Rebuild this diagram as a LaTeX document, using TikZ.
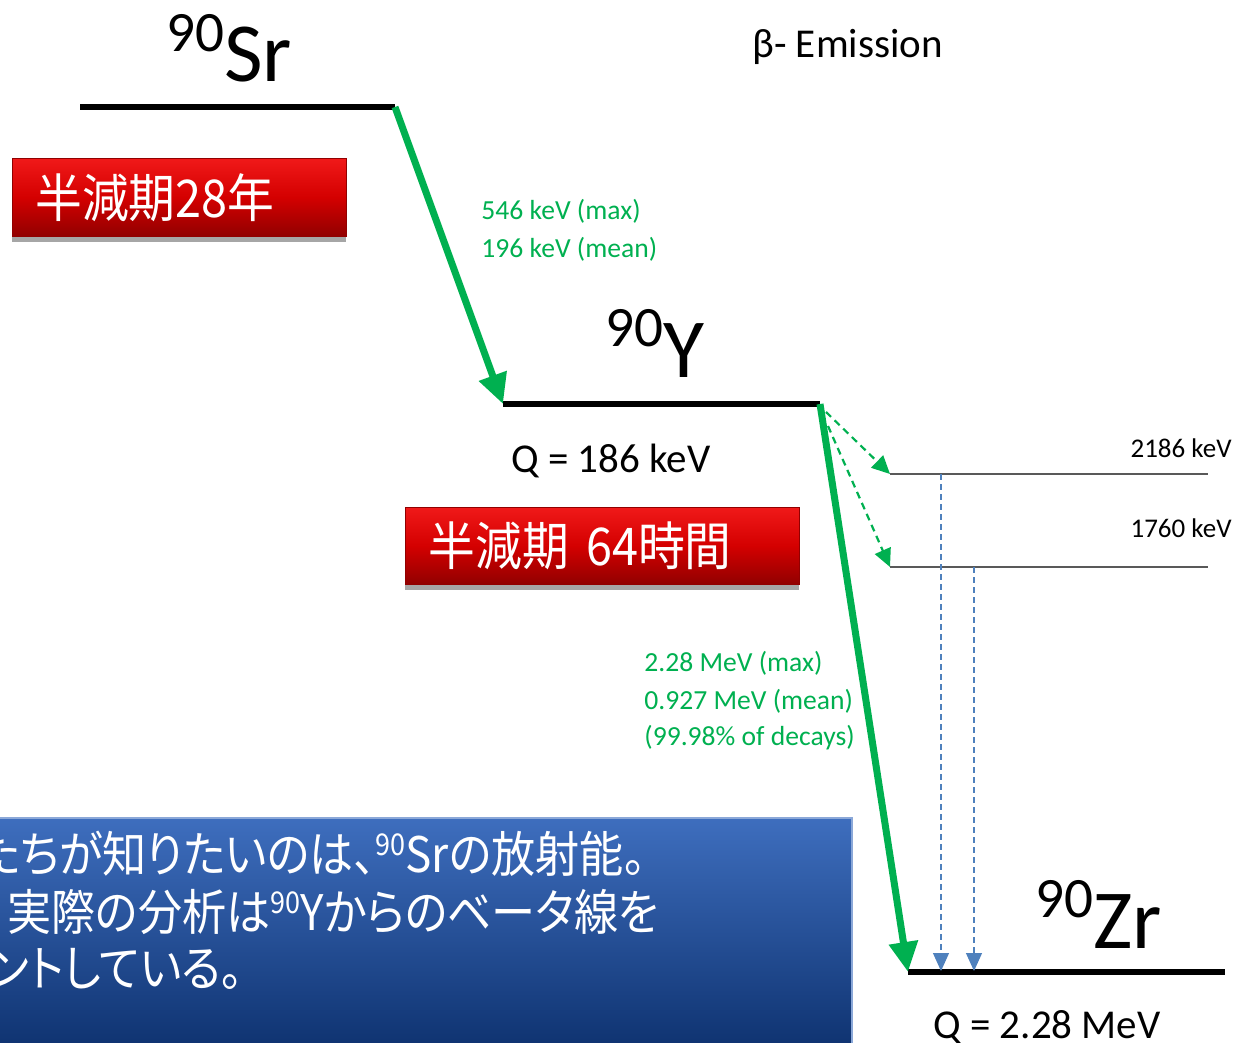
\documentclass[tikz,border=0pt]{standalone}
\usepackage{fontspec}
\setmainfont{Carlito}
\newfontfamily\jp[FakeStretch=0.9]{Noto Sans CJK JP}
\newfontfamily\jpnote[FakeStretch=0.9,RawFeature=+palt]{Noto Sans CJK JP}
\usetikzlibrary{arrows.meta,shadows}
\definecolor{betagreen}{RGB}{0,176,80}
\definecolor{gammablue}{RGB}{79,129,189}
\definecolor{redtop}{RGB}{240,25,25}
\definecolor{redmid}{RGB}{212,0,0}
\definecolor{redbot}{RGB}{145,0,0}
\definecolor{bluetop}{RGB}{62,110,190}
\definecolor{bluebot}{RGB}{10,45,105}
\newcommand{\iso}[2]{\raisebox{.36em}{\scalebox{.68}{#1}}#2}
\newcommand{\jsup}[1]{\raisebox{.34em}{\fontsize{15}{15}\selectfont #1}}
\begin{document}
\begin{tikzpicture}[x=0.5pt,y=-0.5pt,
    level/.style={line width=3pt},
    sublevel/.style={line width=1pt, black!65},
    beta/.style={betagreen, line width=3.5pt, -{Triangle[length=15pt,width=14pt]}},
    betaside/.style={betagreen, line width=1.1pt, dash pattern=on 3.5pt off 2.5pt, -{Triangle[length=9pt,width=8.5pt]}},
    gamma/.style={gammablue, line width=0.6pt, dash pattern=on 3pt off 2pt, -{Triangle[length=9pt,width=8pt]}},
    nuclide/.style={anchor=base west, inner sep=0pt, font=\fontsize{42}{42}\selectfont},
    qval/.style={anchor=base west, inner sep=0pt, font=\fontsize{20.5}{20.5}\selectfont},
    energy/.style={anchor=base west, inner sep=0pt, betagreen, font=\fontsize{13.8}{13.8}\selectfont},
    halflife/.style={anchor=north west, draw=redbot, top color=redtop, bottom color=redbot, middle color=redmid,
        drop shadow={shadow xshift=0pt, shadow yshift=-3pt, fill=black, opacity=.35},
        text=white, align=left, inner xsep=11.5pt, font=\jp\fontsize{26}{26}\selectfont},
    infotext/.style={anchor=base west, inner sep=0pt, text=white, font=\jpnote\fontsize{24.5}{24.5}\selectfont}
  ]
  \clip (0,0) rectangle (1236,1043);
  % level ends
  \coordinate (srL) at (80,107);
  \coordinate (srR) at (395,107);
  \coordinate (yL) at (503,404);
  \coordinate (yR) at (820,404);
  \coordinate (zrL) at (908,972);
  \coordinate (zrR) at (1225,972);
  \coordinate (exaL) at (890,474);
  \coordinate (exaR) at (1208,474);
  \coordinate (exbL) at (890,567);
  \coordinate (exbR) at (1208,567);
  % levels
  \draw[level] (srL) -- (srR);
  \draw[level] (yL) -- (yR);
  \draw[level] (zrL) -- (zrR);
  \draw[sublevel] (exaL) -- (exaR);
  \draw[sublevel] (exbL) -- (exbR);
  % beta decays
  \draw[beta] (srR) -- (yL);
  \draw[beta] (yR) -- (zrL);
  \coordinate (sideA) at (826,412);
  \coordinate (sideB) at (828,426);
  \draw[betaside] (sideA) -- (exaL);
  \draw[betaside] (sideB) -- (exbL);
  % gamma transitions
  \coordinate (gaTop) at (941,474);
  \coordinate (gaBot) at (941,971);
  \coordinate (gbTop) at (974,567);
  \coordinate (gbBot) at (974,971);
  \draw[gamma] (gaTop) -- (gaBot);
  \draw[gamma] (gbTop) -- (gbBot);
  % labels
  \node[nuclide] (sr) at (166,82) {\iso{90}{Sr}};
  \node[nuclide] (y) at (605,377) {\iso{90}{Y}};
  \node[nuclide] (zr) at (1035,948) {\iso{90}{Zr}};
  \node[anchor=base west, inner sep=0pt, font=\fontsize{20.5}{20.5}\selectfont] (title) at (752,58) {β- Emission};
  \node[qval] (qy) at (511,472) {Q = 186 keV};
  \node[qval] (qzr) at (933,1038) {Q = 2.28 MeV};
  \node[energy] (sra) at (481,220) {546 keV (max)};
  \node[energy] (srb) at (481,257) {196 keV (mean)};
  \node[energy] (ya) at (644,671) {2.28 MeV (max)};
  \node[energy] (yb) at (644,709) {0.927 MeV (mean)};
  \node[energy] (yc) at (644,745) {(99.98\% of decays)};
  \node[anchor=base east, inner sep=0pt, font=\fontsize{13.5}{13.5}\selectfont] (exa) at (1232,457) {2186 keV};
  \node[anchor=base east, inner sep=0pt, font=\fontsize{13.5}{13.5}\selectfont] (exb) at (1232,537) {1760 keV};
  % half lives
  \node[halflife, minimum width=167pt, minimum height=39pt, text width=144pt] (hl1) at (12,158) {半減期28年};
  \node[halflife, minimum width=197pt, minimum height=38.5pt, text width=174pt] (hl2) at (405,507) {半減期 64時間};
  % note box
  \shade[top color=bluetop, bottom color=bluebot, draw=bluetop!60!white, line width=0.8pt] (-20,818) rectangle (852,1070);
  \node[infotext] (note1) at (-22,872) {たちが知りたいのは、\jsup{90}Srの放射能。};
  \node[infotext] (note2) at (7,930) {実際の分析は\jsup{90}Yからのベータ線を};
  \node[infotext] (note3) at (-10,986) {ントしている。};
\end{tikzpicture}
\end{document}
